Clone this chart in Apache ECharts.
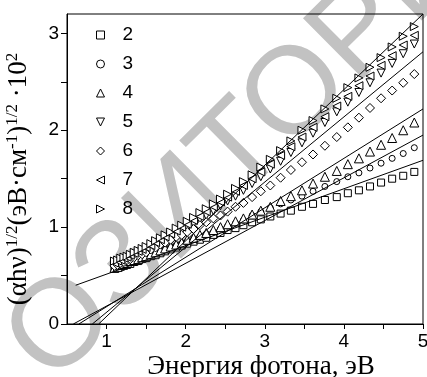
<!DOCTYPE html>
<html><head><meta charset="utf-8">
<script src="https://cdn.jsdelivr.net/npm/echarts@6/dist/echarts.min.js"></script>
<style>html,body{margin:0;padding:0;background:#fff}#c{width:427px;height:377px}</style>
</head><body><div id="c"></div>
<script>
// Photon energy (eV) at which points were measured
const energies = [1.10,1.14,1.18,1.22,1.26,1.30,1.35,1.40,1.45,1.50,1.56,1.62,1.68,1.74,1.81,1.88,1.95,2.02,2.10,2.18,2.26,2.35,2.44,2.53,2.63,2.73,2.84,2.95,3.07,3.20,3.33,3.47,3.61,3.76,3.91,4.05,4.19,4.33,4.47,4.61,4.75,4.89];

const s2 = [0.57,0.58,0.59,0.60,0.61,0.62,0.64,0.65,0.67,0.68,0.70,0.71,0.73,0.75,0.77,0.79,0.81,0.83,0.85,0.87,0.89,0.92,0.94,0.97,0.99,1.02,1.05,1.08,1.11,1.14,1.17,1.21,1.24,1.28,1.31,1.35,1.38,1.42,1.46,1.50,1.53,1.57];
const s3 = [0.57,0.58,0.60,0.61,0.62,0.63,0.65,0.66,0.68,0.69,0.71,0.73,0.75,0.77,0.79,0.81,0.83,0.85,0.88,0.90,0.93,0.95,0.98,1.01,1.04,1.07,1.12,1.16,1.20,1.24,1.28,1.32,1.37,1.42,1.47,1.52,1.56,1.61,1.66,1.71,1.76,1.82];
const s4 = [0.58,0.59,0.61,0.62,0.63,0.65,0.66,0.67,0.69,0.70,0.72,0.74,0.76,0.78,0.80,0.82,0.84,0.87,0.89,0.92,0.94,0.97,1.00,1.03,1.06,1.09,1.13,1.17,1.21,1.27,1.32,1.38,1.45,1.52,1.58,1.65,1.71,1.78,1.85,1.92,2.00,2.08];
const s5 = [0.62,0.63,0.65,0.66,0.68,0.69,0.71,0.73,0.75,0.77,0.79,0.82,0.85,0.88,0.91,0.94,0.97,1.00,1.04,1.08,1.12,1.17,1.22,1.27,1.32,1.38,1.45,1.52,1.60,1.68,1.77,1.87,1.97,2.08,2.19,2.29,2.39,2.49,2.59,2.69,2.79,2.89];
const s6 = [0.60,0.61,0.63,0.64,0.66,0.67,0.69,0.71,0.72,0.74,0.77,0.79,0.82,0.84,0.87,0.90,0.92,0.95,0.98,1.02,1.05,1.09,1.12,1.16,1.21,1.25,1.31,1.37,1.43,1.51,1.59,1.67,1.75,1.84,1.93,2.03,2.13,2.23,2.33,2.41,2.49,2.58];
const s7 = [0.63,0.65,0.66,0.68,0.69,0.71,0.73,0.75,0.77,0.79,0.81,0.84,0.87,0.90,0.93,0.96,1.00,1.03,1.07,1.11,1.16,1.21,1.26,1.31,1.37,1.43,1.50,1.57,1.65,1.74,1.83,1.93,2.03,2.14,2.25,2.35,2.46,2.56,2.67,2.77,2.88,2.98];
const s8 = [0.65,0.66,0.68,0.69,0.70,0.72,0.74,0.76,0.78,0.80,0.83,0.86,0.89,0.92,0.95,0.99,1.02,1.06,1.10,1.15,1.19,1.24,1.29,1.34,1.40,1.47,1.54,1.62,1.70,1.79,1.89,2.00,2.10,2.22,2.33,2.44,2.54,2.65,2.75,2.86,2.97,3.07];

const sampleNames = ['2','3','4','5','6','7','8'];
const sampleValues = [s2,s3,s4,s5,s6,s7,s8];

// Linear extrapolation lines: [start, end] as [energy, value]
const fitA = [[0.61,0.40],[5.0,1.69]];
const fitB = [[0.58,0.00],[5.0,1.95]];
const fitC = [[0.65,0.00],[5.0,2.22]];
const fitD = [[0.82,0.00],[5.0,2.81]];
const fitE = [[0.90,0.00],[5.0,3.20]];
const fits = [fitA,fitB,fitC,fitD,fitE];

const xTickLabels = ['1','2','3','4','5'];
const yTickLabels = ['0','1','2','3'];

const triDown = 'path://M0,0L10,0L5,10Z';
const triLeft = 'path://M10,0L10,10L0,5Z';
const triRight = 'path://M0,0L0,10L10,5Z';
const symbols = {
  '2': {symbol:'rect', size:7, icon:'rect'},
  '3': {symbol:'circle', size:6, icon:'circle'},
  '4': {symbol:'triangle', size:9, icon:'triangle'},
  '5': {symbol:triDown, size:8, icon:triDown},
  '6': {symbol:'diamond', size:9, icon:'diamond'},
  '7': {symbol:triLeft, size:8, icon:triLeft},
  '8': {symbol:triRight, size:8, icon:triRight}
};

const chart = echarts.init(document.getElementById('c'), null, {renderer:'canvas'});
const series = [];
sampleNames.forEach((n,i)=>{
  const s = symbols[n];
  series.push({
    name:n, type:'scatter', symbol:s.symbol, symbolSize:s.size,
    itemStyle:{color:'#fff', borderColor:'#000', borderWidth:1, opacity:1},
    data: energies.map((e,k)=>[e, sampleValues[i][k]]), z:3, silent:true
  });
});
fits.forEach(f=>{
  series.push({type:'line', data:f, symbol:'none', lineStyle:{color:'#000', width:1}, z:4, silent:true, animation:false});
});

const serif = 'Liberation Serif';
const sans = 'Liberation Sans';

chart.setOption({
  animation:false,
  backgroundColor:'#fff',
  graphic:[{
    type:'text', x:28, y:362, rotation:0.78, z:-1,
    style:{text:'ОЗИТОРИЙ', fontSize:124, fontFamily:sans, fill:'#c2c2c2', textVerticalAlign:'middle', textAlign:'left'}
  }],
  grid:{left:67, right:4, top:14, bottom:53, show:true, borderColor:'#000', borderWidth:1, containLabel:false, outerBoundsMode:'none'},
  legend:{
    data:sampleNames.map(n=>({name:n, icon:symbols[n].icon, itemStyle:{color:'#fff', borderColor:'#000', borderWidth:1}})),
    orient:'vertical', left:91, top:20, itemWidth:8, itemHeight:8, itemGap:9,
    textStyle:{fontSize:19, fontFamily:sans, color:'#000', padding:[0,0,0,13], lineHeight:20},
    selectedMode:false
  },
  xAxis:{
    type:'value', min:0.5, max:5, interval:0.5,
    axisLine:{lineStyle:{color:'#000', width:1}},
    axisTick:{show:true, inside:false, length:5, lineStyle:{color:'#000'}},
    splitLine:{show:false},
    axisLabel:{color:'#000', fontSize:19, fontFamily:sans, margin:8, showMinLabel:false,
      formatter:v=>{const t=String(Math.round(v)); return (Math.abs(v-Math.round(v))<1e-6 && xTickLabels.includes(t))?t:'';}},
    name:'Энергия фотона, эВ', nameLocation:'middle', nameGap:29, nameMoveOverlap:false,
    nameTextStyle:{fontSize:27, fontFamily:serif, color:'#000', padding:[0,0,0,32]}
  },
  yAxis:{
    type:'value', min:0, max:3.2, interval:0.5,
    axisLine:{show:true, lineStyle:{color:'#000', width:1}},
    axisTick:{show:true, inside:false, length:6, lineStyle:{color:'#000'}},
    splitLine:{show:false},
    axisLabel:{color:'#000', fontSize:19, fontFamily:sans, margin:8, showMaxLabel:false,
      formatter:v=>{const t=String(Math.round(v)); return (Math.abs(v-Math.round(v))<1e-6 && yTickLabels.includes(t))?t:'';}},
    name:'{b|(αhν)}{s|1/2}{b|(эВ·см}{s|-1}{b|)}{s|1/2}{b| ·10}{s|2}',
    nameLocation:'middle', nameGap:35, nameMoveOverlap:false,
    nameTextStyle:{color:'#000', padding:[0,20,0,0],
      rich:{
        b:{fontSize:27, fontFamily:serif, color:'#000', verticalAlign:'bottom', lineHeight:28},
        s:{fontSize:17, fontFamily:serif, color:'#000', verticalAlign:'top', lineHeight:28}
      }}
  },
  series:series
});
</script>
</body></html>
